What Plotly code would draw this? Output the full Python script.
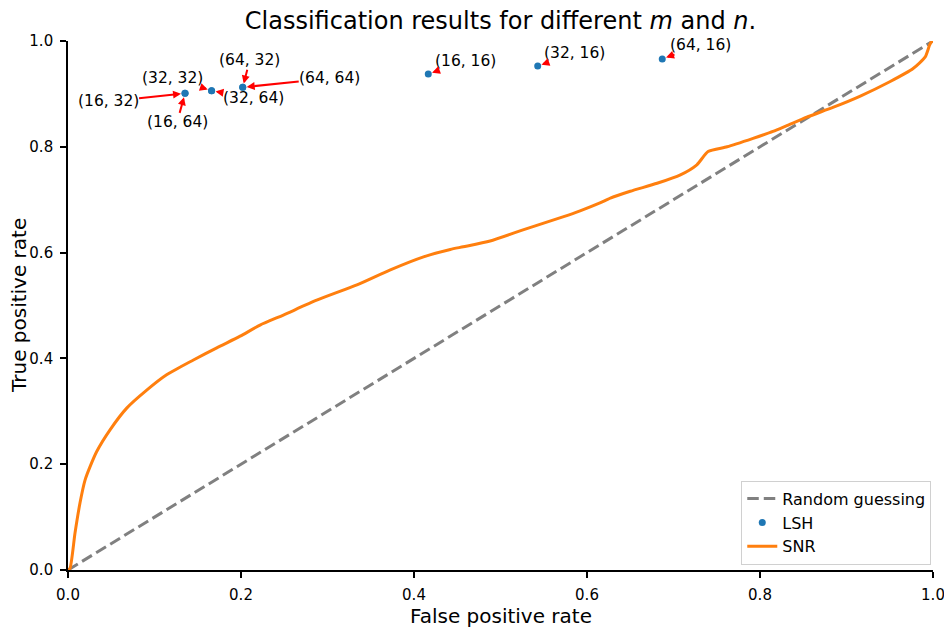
import plotly.graph_objects as go

# ROC curve of SNR
snr_fpr = [0.0, 0.0023, 0.0081, 0.0139, 0.0197, 0.0254, 0.0332, 0.0486, 0.0679, 0.091, 0.114,
           0.145, 0.172, 0.199, 0.222, 0.249, 0.2875, 0.334, 0.372, 0.411, 0.442, 0.457, 0.488,
           0.526, 0.573, 0.592, 0.615, 0.627, 0.650, 0.681, 0.708, 0.727, 0.740, 0.762, 0.792,
           0.815, 0.831, 0.854, 0.885, 0.916, 0.950, 0.977, 0.991, 0.996, 0.998, 1.0]
snr_tpr = [0.0, 0.003, 0.070, 0.127, 0.170, 0.195, 0.224, 0.265, 0.306, 0.340, 0.369,
           0.397, 0.420, 0.442, 0.463, 0.482, 0.510, 0.539, 0.567, 0.592, 0.606, 0.611, 0.622,
           0.643, 0.668, 0.679, 0.694, 0.703, 0.716, 0.731, 0.747, 0.766, 0.791, 0.800, 0.816,
           0.829, 0.840, 0.856, 0.875, 0.896, 0.923, 0.948, 0.970, 0.992, 0.998, 1.0]

# LSH results
lsh_labels = ["(16, 32)", "(16, 64)", "(32, 32)", "(32, 64)", "(64, 32)", "(64, 64)",
              "(16, 16)", "(32, 16)", "(64, 16)"]
lsh_fpr = [0.1353, 0.1353, 0.166, 0.166, 0.202, 0.202, 0.4165, 0.543, 0.687]
lsh_tpr = [0.901, 0.901, 0.906, 0.906, 0.9125, 0.9125, 0.9376, 0.9527, 0.966]

# label offsets (pixels) of each annotation text
lab_dx = [-77, -8, -39, 42, 7, 87, 37, 37, 38]
lab_dy = [8, 29, -13, 7, -27, -9, -13, -13, -14]

random_x = [0, 1]
random_y = [0, 1]

title_text = "Classification results for different <i>m</i> and <i>n</i>."
x_title = "False positive rate"
y_title = "True positive rate"
tick_vals = [0, 0.2, 0.4, 0.6, 0.8, 1.0]

FONT = "DejaVu Sans"

fig = go.Figure()
fig.add_trace(go.Scatter(x=random_x, y=random_y, mode="lines", name="Random guessing",
                         line=dict(color="#808080", width=3, dash="11.5px,5px")))
fig.add_trace(go.Scatter(x=lsh_fpr, y=lsh_tpr, mode="markers", name="LSH",
                         marker=dict(color="#1f77b4", size=7)))
fig.add_trace(go.Scatter(x=snr_fpr, y=snr_tpr, mode="lines", name="SNR",
                         line=dict(color="#ff7f0e", width=3, shape="spline", smoothing=0.6)))

for lab, x, y, dx, dy in zip(lsh_labels, lsh_fpr, lsh_tpr, lab_dx, lab_dy):
    fig.add_annotation(x=x, y=y, ax=dx, ay=dy, text=lab, showarrow=True,
                       arrowcolor="red", arrowwidth=2, arrowhead=2, arrowsize=0.8,
                       standoff=4, borderpad=0,
                       font=dict(family=FONT, size=15.5, color="black"))

fig.add_annotation(text=x_title, xref="paper", yref="paper", x=0.5, y=-0.087,
                   xanchor="center", yanchor="middle", showarrow=False,
                   font=dict(family=FONT, size=20, color="black"))
fig.add_annotation(text=y_title, xref="paper", yref="paper", x=-0.0572, y=0.5,
                   xanchor="center", yanchor="middle", showarrow=False, textangle=-90,
                   font=dict(family=FONT, size=20, color="black"))

axis_common = dict(range=[0, 1], showgrid=False, zeroline=False, showline=True,
                   linecolor="black", linewidth=1.6, ticks="outside", ticklen=6,
                   tickwidth=1.6, tickcolor="black", tickvals=tick_vals,
                   tickformat=".1f", tickfont=dict(family=FONT, size=15, color="black"),
                   mirror=False, automargin=False, ticklabelstandoff=4)

# page body has an 8px margin, so margins are shifted to compensate
fig.update_layout(
    width=952, height=628,
    margin=dict(l=60, r=27, t=33, b=66),
    paper_bgcolor="white", plot_bgcolor="white",
    font=dict(family=FONT, color="black"),
    title=dict(text=title_text, x=0.5173, xanchor="center", y=0.9793, yanchor="middle",
               font=dict(family=FONT, size=24, color="black"), automargin=False),
    xaxis=dict(**axis_common),
    yaxis=dict(**axis_common),
    legend=dict(x=0.998, y=0.01, xanchor="right", yanchor="bottom",
                bordercolor="#d0d0d0", borderwidth=1, bgcolor="rgba(255,255,255,0.8)",
                font=dict(family=FONT, size=16, color="black"), tracegroupgap=0),
    showlegend=True,
)

fig.write_html("out.html")
